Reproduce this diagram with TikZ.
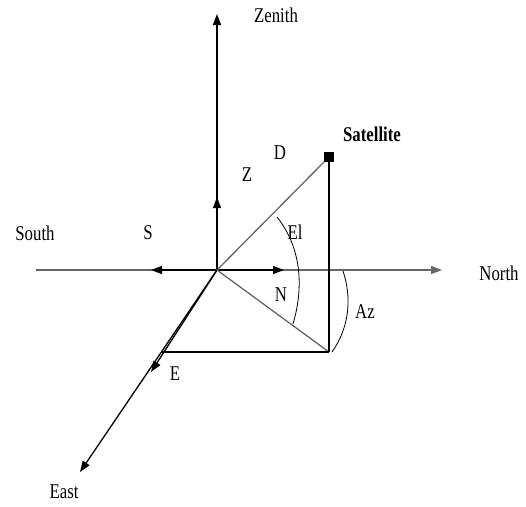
\documentclass[tikz,border=0pt]{standalone}
\usepackage{fontspec}
\usepackage{graphicx}
\setmainfont{Liberation Serif}
\usetikzlibrary{arrows.meta}
\newcommand{\lbl}[1]{\scalebox{0.8}[1]{\fontsize{21}{21}\selectfont #1}}
\tikzset{
  axis/.style={line width=1.3pt, black},
  grayline/.style={line width=1.3pt, black!60},
  thinline/.style={line width=1.1pt, black},
  arcline/.style={line width=0.8pt, black},
  tip/.style={-{Triangle[length=11pt,width=8pt]}},
  lab/.style={inner sep=0pt, anchor=center}
}
\begin{document}
\begin{tikzpicture}[x=1pt,y=-1pt]
\useasboundingbox (0,0) rectangle (526,506);
% coordinates
\coordinate (O) at (217,270);
\coordinate (southend) at (36,270);
\coordinate (northend) at (442,270);
\coordinate (zenend) at (217,14);
\coordinate (zmid) at (217,197);
\coordinate (smid) at (151,270);
\coordinate (nmid) at (284,270);
\coordinate (eastend) at (80,472);
\coordinate (emid) at (151,372);
\coordinate (proj) at (329,352);
\coordinate (eproj) at (162,352);
\node[draw=black, fill=black, minimum size=9pt, inner sep=0pt] (sat) at (329,157) {};
% axes
\draw[grayline, tip] (southend) -- (northend);
\draw[axis, tip] (O) -- (smid);
\draw[axis, tip] (O) -- (nmid);
\draw[axis, tip] (O) -- (zenend);
\draw[axis, tip] (O) -- (zmid);
\draw[axis, tip] (O) -- (eastend);
\draw[axis, tip] (O) -- (emid);
% satellite geometry
\draw[grayline] (O) -- (sat.south west);
\draw[grayline] (O) -- (proj);
\draw[thinline] (sat.south) -- (proj);
\draw[thinline] (eproj) -- (proj);
% angle arcs
\draw[arcline] (277,217) .. controls (303,250) and (303,290) .. (293,324);
\draw[arcline] (343,271) .. controls (351,295) and (351,325) .. (332,352);
% labels
\node[lab] (lzen) at (276,15) {\lbl{Zenith}};
\node[lab] (lsouth) at (35,233) {\lbl{South}};
\node[lab] (ls) at (148,233) {\lbl{S}};
\node[lab] (lnorth) at (499,273) {\lbl{North}};
\node[lab] (lsat) at (372,134) {\lbl{\bfseries Satellite}};
\node[lab] (ld) at (280,153) {\lbl{D}};
\node[lab] (lz) at (247,175) {\lbl{Z}};
\node[lab] (lel) at (295,232) {\lbl{El}};
\node[lab] (ln) at (281,295) {\lbl{N}};
\node[lab] (laz) at (365,312) {\lbl{Az}};
\node[lab] (le) at (175,374) {\lbl{E}};
\node[lab] (least) at (64,492) {\lbl{East}};
\end{tikzpicture}
\end{document}
